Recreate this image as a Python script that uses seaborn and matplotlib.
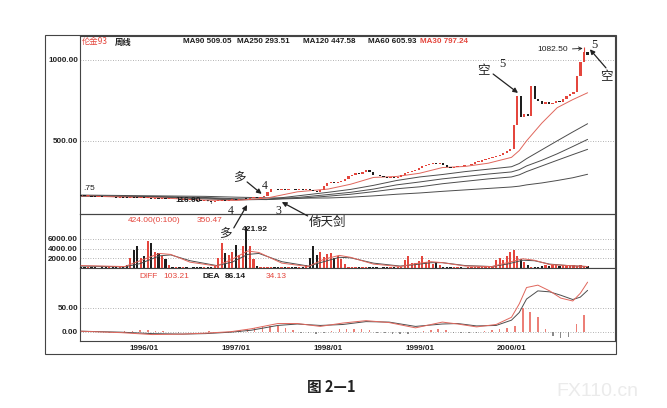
import matplotlib
matplotlib.use("Agg")
import matplotlib.pyplot as plt
from matplotlib.patches import Rectangle
import numpy as np
import pandas as pd
import seaborn as sns

sns.set_theme(style="white")
plt.rcParams['font.family'] = ['Liberation Sans', 'Noto Sans CJK SC']
plt.rcParams['axes.unicode_minus'] = False

RED = '#e4463d'
DARK = '#1e1e1e'
GRAY = '#4d4d4d'
CJK = ['Noto Sans CJK SC', 'DejaVu Sans']

# weekly chart, one candle every second week from 1995-04-24
close_1995 = [161, 158, 160, 156, 153, 157, 152, 150, 154, 151, 148, 152, 149, 147, 151, 148, 146, 149]
close_1996 = [145, 148, 143, 146, 141, 144, 140, 142, 138, 141, 137, 139, 135, 138, 134, 131, 128, 130,
              126, 124, 128, 131, 133, 130, 134, 137, 135]
close_1997 = [138, 142, 140, 146, 150, 148, 153, 158, 185, 205, 200, 196, 202, 198, 205, 200, 196, 203,
              199, 205, 198, 192, 186, 194, 220, 240]
close_1998 = [242, 238, 248, 255, 262, 280, 290, 300, 296, 310, 318, 305, 292, 286, 280, 276, 272, 275,
              270, 278, 290, 300, 308, 315, 320, 330]
close_1999 = [345, 352, 360, 365, 358, 362, 350, 338, 335, 340, 345, 342, 348, 352, 360, 368, 372, 380,
              386, 392, 400, 408, 415, 425, 438, 448]
close_2000 = [600, 780, 650, 665, 655, 840, 760, 745, 730, 742, 728, 735, 748, 740, 760, 775, 792, 805,
              900, 985, 1050, 1030]
first_open = 163

vol_1995 = [200, 150, 180, 120, 150, 100, 130, 110, 150, 120, 180, 140, 250, 600, 2100, 3800, 4500, 2100]
vol_1996 = [2400, 5500, 5200, 3400, 3100, 2400, 1800, 600, 250, 150, 200, 120, 150, 100, 180, 120, 150, 130,
            170, 200, 350, 2100, 5200, 3100, 2600, 3400, 4800]
vol_1997 = [2600, 4500, 8400, 4500, 1900, 500, 250, 180, 200, 150, 130, 160, 120, 140, 110, 150, 120, 130,
            180, 600, 2100, 4500, 2600, 3400, 2200, 2800]
vol_1998 = [3100, 2000, 2400, 1800, 900, 300, 200, 150, 120, 150, 130, 110, 140, 120, 100, 130, 110, 120,
            140, 150, 300, 1700, 2400, 1100, 1000, 1500]
vol_1999 = [2400, 1200, 1700, 900, 1300, 700, 300, 150, 120, 140, 110, 130, 100, 120, 140, 110, 130, 120,
            150, 140, 250, 1700, 2100, 1700, 2400, 3400]
vol_2000 = [3800, 2400, 1800, 1200, 600, 300, 200, 150, 400, 600, 500, 700, 600, 500, 650, 700, 550, 600,
            500, 650, 450, 400]

peak_date, peak_high = '2000-10-16', 1082.50
trough_date, trough_low = '1996-09-23', 116.00

# moving averages
ma_dates = ['1995-04-24', '1995-09-01', '1996-03-01', '1996-09-01', '1997-01-01', '1997-05-01', '1997-09-01',
            '1998-01-01', '1998-04-01', '1998-07-01', '1998-10-01', '1999-01-01', '1999-04-01', '1999-07-01',
            '1999-10-01', '2000-01-01', '2000-02-01', '2000-03-01', '2000-05-01', '2000-07-01', '2000-09-01',
            '2000-10-30']
ma30 = [160, 154, 148, 133, 132, 146, 185, 202, 232, 274, 280, 300, 335, 342, 362, 398, 440, 500, 610, 705, 755, 797.24]
ma60 = [158, 156, 152, 141, 135, 138, 160, 182, 200, 225, 255, 277, 292, 310, 325, 340, 360, 390, 445, 500, 555, 605.93]
ma90 = [160, 157, 154, 146, 139, 137, 150, 168, 182, 202, 228, 246, 265, 280, 295, 308, 322, 345, 380, 420, 465, 509.05]
ma120 = [161, 158, 155, 150, 142, 138, 144, 158, 170, 186, 204, 216, 235, 250, 265, 277, 290, 310, 345, 380, 415, 447.58]
ma250 = [165, 163, 160, 157, 152, 148, 146, 147, 152, 160, 170, 178, 188, 197, 206, 215, 220, 228, 240, 255, 272, 293.51]

vol_line_dates = ['1995-04-24', '1995-10-15', '1995-12-15', '1996-03-01', '1996-04-15', '1996-07-01', '1996-10-15',
                  '1996-12-15', '1997-02-15', '1997-04-01', '1997-07-01', '1997-10-15', '1997-12-15', '1998-02-15',
                  '1998-04-01', '1998-07-01', '1998-10-15', '1998-12-15', '1999-02-15', '1999-04-01', '1999-07-01',
                  '1999-10-15', '1999-12-15', '2000-02-15', '2000-04-01', '2000-06-01', '2000-08-15', '2000-10-30']
vol_line_red = [500, 300, 1500, 3000, 2800, 1200, 400, 1800, 3500, 3200, 1000, 300, 1800, 2600, 2200, 800, 300, 900,
                1300, 1100, 400, 300, 1100, 1900, 1600, 700, 500, 300]
vol_line_dark = [400, 250, 900, 2500, 2700, 1500, 500, 1200, 2800, 3000, 1300, 400, 1300, 2200, 2100, 1000, 400, 700,
                 1100, 1100, 500, 300, 800, 1600, 1500, 800, 500, 300]

macd_dates = ['1995-04-24', '1995-10-01', '1996-02-01', '1996-06-01', '1996-09-01', '1996-12-10', '1997-03-01',
              '1997-06-15', '1997-09-01', '1997-12-01', '1998-03-01', '1998-06-01', '1998-09-01', '1998-12-15',
              '1999-04-01', '1999-06-01', '1999-08-15', '1999-11-01', '2000-01-01', '2000-02-01', '2000-03-01',
              '2000-04-15', '2000-06-01', '2000-07-15', '2000-09-01', '2000-10-01', '2000-10-30']
diff = [1, -2, -6, -5, -3, 0, 6, 17, 17, 11, 18, 23, 19, 8, 20, 16, 10, 15, 30, 58, 92, 97, 85, 70, 64, 80, 103.21]
dea = [1, -1, -4, -5, -4, -1, 3, 13, 16, 13, 15, 21, 20, 11, 16, 17, 12, 13, 24, 40, 68, 85, 83, 76, 67, 72, 86.14]
# monthly MACD bars from 1995-05
macd_bar = [0, -1, -1, -2, -1, 1, 2, 3,
            3, 2, 1, -1, -2, -1, -1, 0, 1, 0, -1, 1,
            3, 5, 7, 9, 11, 12, 8, 3, -2, -3, -4, -3,
            2, 5, 6, 5, 6, 3, -2, -3, -4, -5, -4, -3,
            2, 4, 6, 3, -2, -3, -2, -3, 2, 4, 5, 8,
            12, 50, 42, 30, 5, -10, -13, -12, 15, 34.13]

year_ticks = ['1996-01-01', '1997-01-01', '1998-01-01', '1999-01-01', '2000-01-01']
year_labels = ['1996/01', '1997/01', '1998/01', '1999/01', '2000/01']

# ---------------------------------------------------------------
close = close_1995 + close_1996 + close_1997 + close_1998 + close_1999 + close_2000
vol = vol_1995 + vol_1996 + vol_1997 + vol_1998 + vol_1999 + vol_2000
dates = pd.date_range('1995-04-24', periods=len(close), freq='14D')
df = pd.DataFrame({'date': dates, 'close': close, 'vol': vol})
df['open'] = df['close'].shift(1).fillna(first_open)
df['up'] = df['close'] >= df['open']
body_lo = df[['open', 'close']].min(axis=1)
body_h = (df['close'] - df['open']).abs().clip(lower=5)
colors = np.where(df['up'], RED, DARK)

fig = plt.figure(figsize=(6.67, 4.08), dpi=100)
fig.patch.set_facecolor('white')
W, H = 667, 408
ax = fig.add_axes([80 / W, 1 - 214 / H, 535 / W, 178 / H])
axv = fig.add_axes([80 / W, 1 - 268 / H, 535 / W, 54 / H], sharex=ax)
axm = fig.add_axes([80 / W, 1 - 341 / H, 535 / W, 73 / H], sharex=ax)
# price panel on top so its notes can run over the volume panel
ax.set_zorder(5)
ax.patch.set_visible(False)

xlim = (pd.Timestamp('1995-04-20'), pd.Timestamp('2001-02-16'))
dot = dict(color='#9a9a9a', lw=0.6, ls=(0, (1, 2)), zorder=0)

# price panel
ax.bar(df['date'], body_h, bottom=body_lo, width=9, color=colors, linewidth=0, zorder=3)
ax.vlines(pd.Timestamp(peak_date), 1050, peak_high, color=RED, lw=0.8, zorder=3)
ax.vlines(pd.Timestamp(trough_date), trough_low, 124, color=DARK, lw=0.8, zorder=3)
for vals, col in [(ma250, GRAY), (ma120, GRAY), (ma90, GRAY), (ma60, GRAY), (ma30, '#e0665c')]:
    sns.lineplot(x=pd.to_datetime(ma_dates), y=vals, ax=ax, color=col, lw=0.7, zorder=2)
ax.set_ylim(48, 1148)
for v in [500, 1000]:
    ax.axhline(v, **dot)
ax.set_yticks([500, 1000])
ax.set_yticklabels([f'{v:.2f}' for v in [500, 1000]])

hdr_y = 1111
ax.text(pd.Timestamp('1995-04-28'), hdr_y, '伦金93', color=RED, fontsize=6, va='center', family=CJK)
ax.text(pd.Timestamp('1995-09-05'), hdr_y, '周线', color=DARK, fontsize=6, va='center', family=CJK, weight='bold')
hdr = [('1996-06-01', 'MA90', ma90, DARK), ('1997-01-04', 'MA250', ma250, DARK), ('1997-09-25', 'MA120', ma120, DARK),
       ('1998-06-10', 'MA60', ma60, DARK), ('1999-01-01', 'MA30', ma30, RED)]
for d, name, vals, col in hdr:
    ax.text(pd.Timestamp(d), hdr_y, f'{name} {vals[-1]:.2f}', color=col, fontsize=5.8, va='center', weight='bold')

ax.text(pd.Timestamp('1995-05-02'), 203, '.75', fontsize=6, va='center', color=DARK)
arr = dict(arrowstyle='-|>', color='#222', lw=0.9, mutation_scale=7, shrinkA=0, shrinkB=0)
ax.annotate('116.00', xy=(pd.Timestamp(trough_date), 130), xytext=(pd.Timestamp('1996-06-25'), 132),
            fontsize=6, weight='bold', ha='center', va='center', color=DARK,
            arrowprops=dict(arrowstyle='-', color=DARK, lw=0.7))
ax.annotate('1082.50', xy=(pd.Timestamp(peak_date), 1072), xytext=(pd.Timestamp('2000-06-12'), 1062),
            fontsize=6, ha='center', va='center', color=DARK,
            arrowprops=dict(arrowstyle='->', color=DARK, lw=0.6, shrinkA=1, shrinkB=1))

def mark(s, d, v, size=9, fam=CJK):
    ax.text(pd.Timestamp(d), v, s, fontsize=size, ha='center', va='center', color='#222',
            family=fam, clip_on=False, zorder=10)

def arrow(d0, v0, d1, v1):
    ax.annotate('', xy=(pd.Timestamp(d1), v1), xytext=(pd.Timestamp(d0), v0), arrowprops=arr,
                annotation_clip=False, zorder=10)

serif = ['Liberation Serif', 'DejaVu Serif']
mark('多', '1997-01-12', 271)
arrow('1997-02-13', 246, '1997-04-12', 172)
mark('4', '1997-04-23', 221, 8.5, serif)
mark('4', '1996-12-10', 67, 8.5, serif)
mark('多', '1996-11-17', -75)
arrow('1996-12-22', -38, '1997-02-13', 104)
mark('3', '1997-06-18', 67, 8.5, serif)
mark('倚天剑', '1997-12-30', -7)
arrow('1997-10-12', 36, '1997-07-01', 122)
mark('空', '1999-09-10', 932)
mark('5', '1999-11-24', 975, 9, serif)
arrow('1999-10-20', 913, '2000-01-27', 796)
mark('5', '2000-11-24', 1093, 9, serif)
mark('空', '2001-01-11', 895)
arrow('2001-01-11', 951, '2000-11-08', 1066)

# volume panel
axv.bar(df['date'], df['vol'], width=9, color=colors, linewidth=0, zorder=3)
sns.lineplot(x=pd.to_datetime(vol_line_dates), y=vol_line_dark, ax=axv, color=GRAY, lw=0.7, zorder=4)
sns.lineplot(x=pd.to_datetime(vol_line_dates), y=vol_line_red, ax=axv, color='#e0665c', lw=0.7, zorder=4)
axv.set_ylim(0, 11130)
vt = [2000, 4000, 6000]
for v in vt:
    axv.axhline(v, **dot)
axv.set_yticks(vt)
axv.set_yticklabels([f'{v:.2f}' for v in vt])
axv.text(pd.Timestamp('1996-02-08'), 9750, '424.00(0:100)', color=RED, fontsize=6, ha='center', va='center')
axv.text(pd.Timestamp('1996-09-15'), 9750, '350.47', color=RED, fontsize=6, ha='center', va='center')
axv.text(pd.Timestamp('1997-03-14'), 7900, '421.92', color=DARK, fontsize=6, ha='center', va='center', weight='bold')

# MACD panel
bar_dates = pd.date_range('1995-05-15', periods=len(macd_bar), freq=pd.DateOffset(months=1))
bar_vals = np.array(macd_bar)
axm.bar(bar_dates, bar_vals, width=6, color=np.where(bar_vals >= 0, '#ec7f77', '#8a8a8a'), linewidth=0, zorder=2)
sns.lineplot(x=pd.to_datetime(macd_dates), y=dea, ax=axm, color=GRAY, lw=0.7, zorder=3)
sns.lineplot(x=pd.to_datetime(macd_dates), y=diff, ax=axm, color='#e0665c', lw=0.7, zorder=3)
axm.set_ylim(-19.4, 132.7)
for v in [0, 50]:
    axm.axhline(v, **dot)
axm.set_yticks([0, 50])
axm.set_yticklabels(['0.00', '50.00'])
ml = 116
axm.text(pd.Timestamp('1996-01-18'), ml, 'DIFF', color=RED, fontsize=6, ha='center', va='center')
axm.text(pd.Timestamp('1996-05-08'), ml, f'{diff[-1]:.2f}', color=RED, fontsize=6, ha='center', va='center')
axm.text(pd.Timestamp('1996-09-22'), ml, 'DEA', color=DARK, fontsize=6, ha='center', va='center', weight='bold')
axm.text(pd.Timestamp('1996-12-28'), ml, f'{dea[-1]:.2f}', color=DARK, fontsize=6, ha='center', va='center', weight='bold')
axm.text(pd.Timestamp('1997-06-07'), ml, f'{macd_bar[-1]:.2f}', color=RED, fontsize=6, ha='center', va='center')

axm.set_xticks(pd.to_datetime(year_ticks))
axm.set_xticklabels(year_labels)

for a in (ax, axv, axm):
    a.set_xlim(*xlim)
    a.grid(False)
    a.set_xlabel('')
    a.set_ylabel('')
    a.tick_params(axis='both', length=0, pad=1.5, labelsize=5.8, colors='#222')
    for lab in a.get_yticklabels():
        lab.set_fontweight('bold')
    for s in a.spines.values():
        s.set_color('#444')
        s.set_linewidth(0.8)
    if a.get_legend() is not None:
        a.get_legend().remove()
for a in (ax, axv):
    a.tick_params(axis='x', labelbottom=False)
for lab in axm.get_xticklabels():
    lab.set_fontweight('bold')
axm.tick_params(axis='x', pad=3)

fig.add_artist(Rectangle((45 / W, 1 - 354 / H), 571 / W, 319 / H, transform=fig.transFigure,
                         fill=False, lw=0.8, edgecolor='#444'))
fig.text(331 / W, 1 - 387 / H, '图 2—1', ha='center', va='center', fontsize=10.5, weight='bold',
         family=CJK, color='#222')
fig.text(597 / W, 1 - 392 / H, 'FX110.cn', ha='center', va='center', fontsize=14, color='#ebebeb')

fig.savefig('out.png', dpi=100, facecolor='white')
